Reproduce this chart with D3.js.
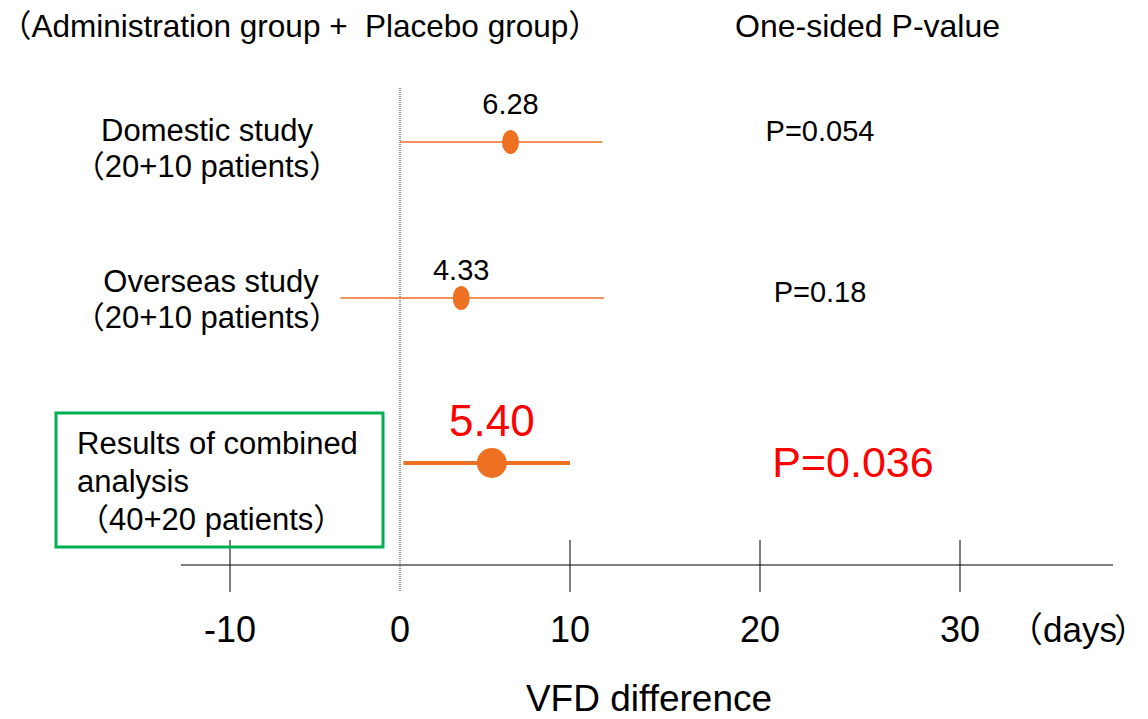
<!DOCTYPE html>
<html>
<head>
<meta charset="utf-8">
<script src="https://cdn.jsdelivr.net/npm/d3@7"></script>
<style>
  body { margin: 0; background: #fff; overflow: hidden; }
  text { font-family: "Liberation Sans", Arial, "Noto Sans CJK JP", sans-serif; white-space: pre; }
</style>
</head>
<body>
<div id="svg"></div>
<script>
// chart values
var studies = ["Domestic", "Overseas", "Combined"];
var est = [6.5, 3.6, 5.4];            // point estimate position
var estLabels = ["6.28", "4.33", "5.40"];
var ciLow = [0, -3.5, 0.2];
var ciHigh = [11.7, 11.8, 10.0];
var pValues = ["P=0.054", "P=0.18", "P=0.036"];
var tickValues = [-10, 0, 10, 20, 30];

var w = 1148, h = 719;
var orange = "#ee7023", red = "#ff0000";

var svg = d3.select("#svg").append("svg")
    .attr("width", w)
    .attr("height", h);

// axis is not evenly spaced in the original drawing
var x = d3.scaleLinear().domain([-10, 0, 10, 20, 30]).range([230, 400, 570, 760, 960]);
var y = d3.scaleOrdinal().domain(studies).range([142, 298, 463]);

// header texts
svg.append("text").attr("x", 0).attr("y", 37)
    .style("font-size", "31.5px").text("（Administration group +  Placebo group）");
svg.append("text").attr("x", 735).attr("y", 37)
    .style("font-size", "32px").text("One-sided P-value");

// dotted zero line
svg.append("line")
    .attr("x1", x(0)).attr("x2", x(0))
    .attr("y1", 88).attr("y2", 592)
    .attr("stroke", "#333").attr("stroke-width", 1)
    .attr("stroke-dasharray", "1,1");

// x axis
svg.append("line")
    .attr("x1", 181).attr("x2", 1113)
    .attr("y1", 565).attr("y2", 565)
    .attr("stroke", "#000").attr("stroke-width", 1.2);

svg.selectAll(".tick").data(tickValues.filter(function(d){ return d !== 0; }))
  .enter().append("line")
    .attr("class", "tick")
    .attr("x1", function(d){ return x(d); })
    .attr("x2", function(d){ return x(d); })
    .attr("y1", 540).attr("y2", 592)
    .attr("stroke", "#000").attr("stroke-width", 1);

svg.selectAll(".ticklabel").data(tickValues)
  .enter().append("text")
    .attr("class", "ticklabel")
    .attr("x", function(d){ return x(d); })
    .attr("y", 642)
    .attr("text-anchor", "middle")
    .style("font-size", "36px")
    .text(function(d){ return d; });

// unit label, closing bracket split off so it stays inside the frame
svg.append("text").attr("x", 1008).attr("y", 642)
    .style("font-size", "35px").text("（days");
svg.append("text").attr("x", 1114).attr("y", 642)
    .style("font-size", "33px").text("）");
svg.append("text").attr("x", 649).attr("y", 711)
    .attr("text-anchor", "middle")
    .style("font-size", "37px").text("VFD difference");

// row labels
var leftLabels = [
  ["Domestic study", "（20+10 patients）"],
  ["Overseas study", "（20+10 patients）"]
];
var labelX = [207, 211];
leftLabels.forEach(function(l, i){
  var yy = y(studies[i]);
  svg.append("text").attr("x", labelX[i]).attr("y", yy - 1 - i * 5)
      .attr("text-anchor", "middle").style("font-size", "31px").text(l[0]);
  svg.append("text").attr("x", 207).attr("y", yy + 35 - i * 5)
      .attr("text-anchor", "middle").style("font-size", "31px").text(l[1]);
});

// combined box
svg.append("rect")
    .attr("x", 56).attr("y", 413)
    .attr("width", 327).attr("height", 134)
    .attr("fill", "none").attr("stroke", "#00b050").attr("stroke-width", 3);
svg.append("text").attr("x", 77).attr("y", 454).style("font-size", "31px").text("Results of combined");
svg.append("text").attr("x", 77).attr("y", 492).style("font-size", "31px").text("analysis");
svg.append("text").attr("x", 78).attr("y", 530).style("font-size", "31px").text("（40+20 patients）");

// CI lines
svg.selectAll(".ci").data(studies)
  .enter().append("line")
    .attr("class", "ci")
    .attr("x1", function(d, i){ return x(ciLow[i]); })
    .attr("x2", function(d, i){ return x(ciHigh[i]); })
    .attr("y1", function(d){ return y(d); })
    .attr("y2", function(d){ return y(d); })
    .attr("stroke", orange)
    .attr("stroke-width", function(d, i){ return i == 2 ? 4 : 1.5; });

// points
svg.selectAll(".pt").data(studies)
  .enter().append("ellipse")
    .attr("class", "pt")
    .attr("cx", function(d, i){ return x(est[i]); })
    .attr("cy", function(d){ return y(d); })
    .attr("rx", function(d, i){ return i == 2 ? 15 : 8.5; })
    .attr("ry", function(d, i){ return i == 2 ? 15 : 12; })
    .attr("fill", orange);

// estimate labels
var estDy = [28, 18, 27];
svg.selectAll(".est").data(studies)
  .enter().append("text")
    .attr("class", "est")
    .attr("x", function(d, i){ return x(est[i]); })
    .attr("y", function(d, i){ return y(d) - estDy[i]; })
    .attr("text-anchor", "middle")
    .style("font-size", function(d, i){ return i == 2 ? "44px" : "29px"; })
    .style("fill", function(d, i){ return i == 2 ? red : "#000"; })
    .text(function(d, i){ return estLabels[i]; });

// p values
var pX = [820, 820, 853];
var pDy = [-1, 4, 14];
svg.selectAll(".pval").data(studies)
  .enter().append("text")
    .attr("class", "pval")
    .attr("x", function(d, i){ return pX[i]; })
    .attr("y", function(d, i){ return y(d) + pDy[i]; })
    .attr("text-anchor", "middle")
    .style("font-size", function(d, i){ return i == 2 ? "43px" : "29px"; })
    .style("fill", function(d, i){ return i == 2 ? red : "#000"; })
    .text(function(d, i){ return pValues[i]; });
</script>
</body>
</html>
